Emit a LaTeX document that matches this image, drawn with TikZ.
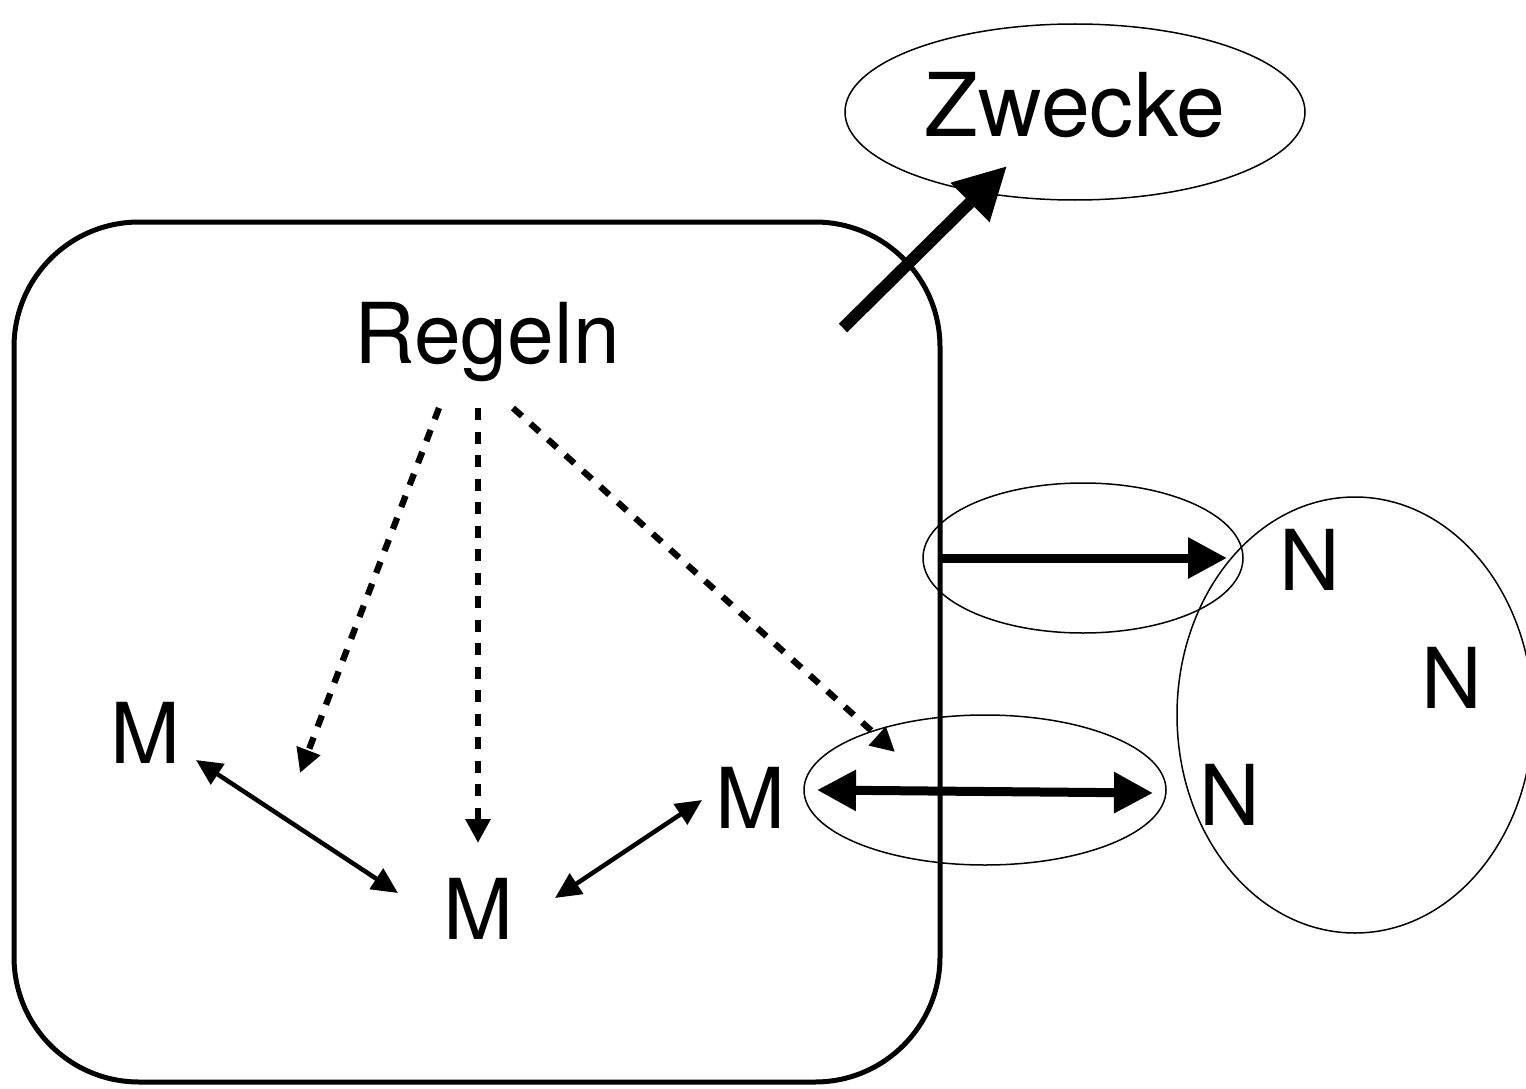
\documentclass[tikz,border=0pt]{standalone}
\usepackage{fontspec}
\setmainfont{TeX Gyre Heros}
\usetikzlibrary{arrows.meta,shapes.geometric}
\begin{document}
\begin{tikzpicture}[x=1pt,y=-1pt,
  lbl/.style={font=\fontsize{84}{84}\selectfont, inner sep=0pt, anchor=base},
  ell/.style={draw, ellipse, line width=1.5pt, inner sep=0pt},
  thinarr/.style={line width=4.5pt, {Triangle[length=26pt,width=24pt]}-{Triangle[length=26pt,width=24pt]}},
  dasharr/.style={line width=6.3pt, dash pattern=on 12pt off 11.5pt, -{Triangle[length=24pt,width=24pt]}},
  bigarr/.style={line width=9pt, -{Triangle[length=39pt,width=39pt]}},
  bigdbl/.style={line width=9pt, {Triangle[length=39pt,width=39pt]}-{Triangle[length=39pt,width=39pt]}},
  zwarr/.style={line width=12pt, -{Triangle[length=52pt,width=52pt]}}
]
\useasboundingbox (0,0) rectangle (1526,1089);

% main rounded box
\node[draw, line width=5pt, rounded corners=125pt, minimum width=926pt, minimum height=860pt, inner sep=0pt] (box) at (477,652) {};

% ellipses
\node[ell, minimum width=460pt, minimum height=176pt] (zwell) at (1075,112) {};
\node[ell, minimum width=320pt, minimum height=150pt] (upell) at (1083,558) {};
\node[ell, minimum width=362pt, minimum height=150pt] (loell) at (985,790) {};
\node[ell, minimum width=356pt, minimum height=436pt] (nell) at (1355,715) {};

% labels
\node[lbl, font=\fontsize{88}{88}\selectfont] (zw) at (1075,137) {Zwecke};
\node[lbl] (regeln) at (487,363) {Regeln};
\node[lbl] (m1) at (145,763) {M};
\node[lbl] (m2) at (478,939) {M};
\node[lbl] (m3) at (750,828) {M};
\node[lbl] (n1) at (1310,590) {N};
\node[lbl] (n2) at (1452,708) {N};
\node[lbl] (n3) at (1230,825) {N};

% connector end points
\coordinate (rs1) at (439,408);
\coordinate (rs2) at (478,408);
\coordinate (rs3) at (513,408);
\coordinate (re1) at (300,773);
\coordinate (re2) at (478,843);
\coordinate (re3) at (895,752);
\coordinate (m1a) at (196,760);
\coordinate (m2a) at (398,893);
\coordinate (m2b) at (555,898);
\coordinate (m3a) at (702,800);
\coordinate (zs) at (843,328);
\coordinate (zt) at (1007,166);
\coordinate (us) at (940,558);
\coordinate (ut) at (1227,558);
\coordinate (ls) at (817,790);
\coordinate (lt) at (1153,793);

% connectors
\draw[dasharr] (rs1) -- (re1);
\draw[dasharr] (rs2) -- (re2);
\draw[dasharr] (rs3) -- (re3);
\draw[thinarr] (m1a) -- (m2a);
\draw[thinarr] (m2b) -- (m3a);
\draw[zwarr] (zs) -- (zt);
\draw[bigarr] (us) -- (ut);
\draw[bigdbl] (ls) -- (lt);
\end{tikzpicture}
\end{document}
